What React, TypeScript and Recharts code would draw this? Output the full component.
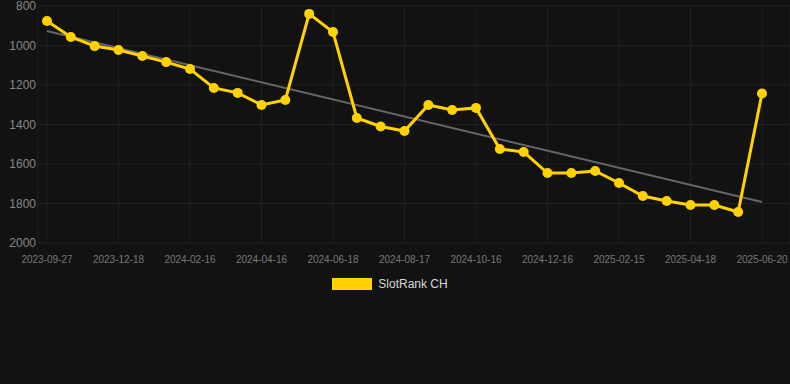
import { CartesianGrid, Legend, Line, LineChart, ReferenceLine, XAxis, YAxis } from "recharts";

const dates = [
  "2023-09-27", "2023-10-24", "2023-11-20", "2023-12-18", "2024-01-07", "2024-01-27",
  "2024-02-16", "2024-03-07", "2024-03-27", "2024-04-16", "2024-05-07", "2024-05-28",
  "2024-06-18", "2024-07-08", "2024-07-28", "2024-08-17", "2024-09-06", "2024-09-26",
  "2024-10-16", "2024-11-05", "2024-11-25", "2024-12-16", "2025-01-05", "2025-01-25",
  "2025-02-15", "2025-03-07", "2025-03-28", "2025-04-18", "2025-05-09", "2025-05-30",
  "2025-06-20",
];
const ranks = [
  876, 957, 1003, 1023, 1053, 1084, 1119, 1215, 1240, 1301, 1276, 840, 932, 1367, 1410,
  1433, 1301, 1327, 1316, 1524, 1539, 1646, 1646, 1635, 1696, 1762, 1787, 1808, 1808,
  1843, 1243,
];
const trend = [927, 1792]; // start / end of the trend line
const yTicks = [800, 1000, 1200, 1400, 1600, 1800, 2000];
const seriesName = "SlotRank CH";

const data = dates.map((date, i) => ({ date, rank: ranks[i] }));

const YELLOW = "#ffd200";
const font = "'Liberation Sans', Arial, sans-serif";

function LegendBox() {
  return (
    <div style={{ display: "flex", justifyContent: "center", alignItems: "center", fontFamily: font, paddingRight: 10 }}>
      <span style={{ width: 40, height: 12, background: YELLOW, display: "inline-block", marginRight: 6 }} />
      <span style={{ color: "#d8d8d8", fontSize: 12 }}>{seriesName}</span>
    </div>
  );
}

export default function App() {
  return (
    <div style={{ position: "fixed", left: 0, top: 0, width: 790, height: 384, background: "#121212" }}>
      <LineChart width={790} height={384} data={data} margin={{ top: 6, right: 0, left: 0, bottom: 97 }}>
        <CartesianGrid stroke="#1f1f1f" />
        <XAxis dataKey="date" interval={2} padding={{ left: 9, right: 28 }} axisLine={false} tickLine={false}
          tickSize={0} tickMargin={13} tick={{ fill: "#777", fontSize: 10, fontFamily: font }} />
        <YAxis reversed domain={[800, 2000]} ticks={yTicks} interval={0} width={38} axisLine={false} tickLine={false}
          tickSize={0} tickMargin={2} tick={{ fill: "#888", fontSize: 12, fontFamily: font }} />
        <ReferenceLine segment={[{ x: dates[0], y: trend[0] }, { x: dates[dates.length - 1], y: trend[1] }]}
          stroke="#666" strokeWidth={2} ifOverflow="visible" />
        <Line dataKey="rank" name={seriesName} stroke={YELLOW} strokeWidth={3}
          dot={{ r: 5, fill: YELLOW, stroke: YELLOW, strokeWidth: 0 }} activeDot={false} isAnimationActive={false} />
        <Legend content={() => <LegendBox />} wrapperStyle={{ position: "absolute", top: 277, left: 0, width: 790 }} />
      </LineChart>
    </div>
  );
}
